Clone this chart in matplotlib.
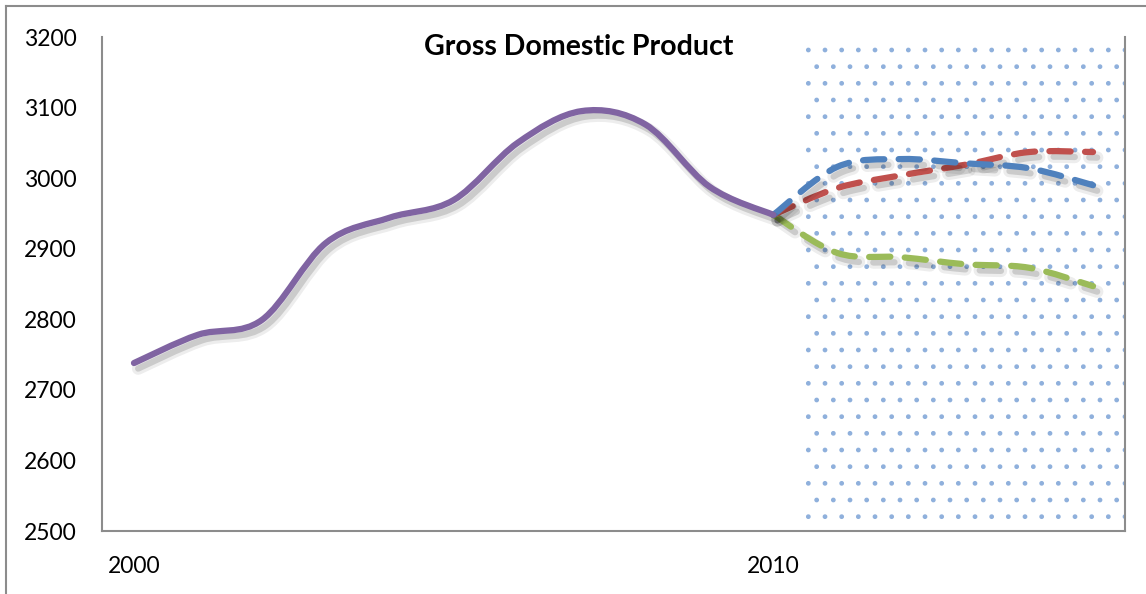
import numpy as np
import matplotlib
matplotlib.use('Agg')
import matplotlib.pyplot as plt
from matplotlib.path import Path
from matplotlib.patches import PathPatch
from matplotlib.lines import Line2D
import matplotlib.patheffects as pe

plt.rcParams['font.family'] = ['Lato', 'DejaVu Sans']

# data
years = list(range(2000, 2016))
gdp = [2738, 2778, 2799, 2908, 2944, 2969, 3050, 3095, 3076, 2988, 2948]
years_fc = [2010, 2011, 2012, 2013, 2014, 2015]
fc_high = [2948, 3016, 3027, 3021, 3014, 2990]
fc_mid = [2948, 2986, 3004, 3019, 3037, 3037]
fc_low = [2948, 2894, 2888, 2878, 2873, 2847]
forecast_span = [2011, 2012, 2013, 2014, 2015]
yticks = [2500, 2600, 2700, 2800, 2900, 3000, 3100, 3200]
xlabels = {2000: '2000', 2010: '2010'}


def smooth_path(xs, ys):
    # excel-like smoothed line as bezier segments
    pts = np.column_stack([xs, ys]).astype(float)
    n = len(pts)
    verts = [pts[0]]
    codes = [Path.MOVETO]
    for i in range(n - 1):
        p0 = pts[i - 1] if i > 0 else pts[i]
        p1 = pts[i]
        p2 = pts[i + 1]
        p3 = pts[i + 2] if i + 2 < n else pts[i + 1]
        c1 = p1 + (p2 - p0) / 6.0
        c2 = p2 - (p3 - p1) / 6.0
        verts += [c1, c2, p2]
        codes += [Path.CURVE4] * 3
    return Path(verts, codes)


fig = plt.figure(figsize=(11.46, 5.94), dpi=100)
ax = fig.add_axes([102 / 1146, 1 - 531 / 594, (1125 - 102) / 1146, (531 - 37) / 594])

# dotted forecast area
ax.bar(forecast_span, [yticks[-1] - yticks[0]] * len(forecast_span), width=1.0,
       bottom=yticks[0], color='none', edgecolor='#8fb0dc', linewidth=0,
       hatch='.', zorder=1)

shadow = [pe.SimpleLineShadow(offset=(3, -4), shadow_color='black', alpha=0.07, linewidth=9),
          pe.SimpleLineShadow(offset=(3, -4), shadow_color='black', alpha=0.14),
          pe.Normal()]

ax.add_patch(PathPatch(smooth_path(years[:len(gdp)], gdp), fill=False,
                       edgecolor='#8064A2', linewidth=4.5, capstyle='round',
                       joinstyle='round', path_effects=shadow, zorder=5))

for vals, col in [(fc_low, '#9BBB59'), (fc_mid, '#C0504D'), (fc_high, '#4F81BD')]:
    ax.add_patch(PathPatch(smooth_path(years_fc, vals), fill=False,
                           edgecolor=col, linewidth=4.5, capstyle='round',
                           linestyle=(0, (3.4, 2.3)), path_effects=shadow, zorder=4))

ax.set_xlim(years[0] - 0.5, years[-1] + 0.5)
ax.set_ylim(yticks[0], yticks[-1])
ax.set_yticks(yticks)
ax.set_xticks(list(xlabels.keys()))
ax.set_xticklabels(list(xlabels.values()))
ax.tick_params(axis='y', length=0, pad=18, labelsize=16.5)
ax.tick_params(axis='x', length=0, pad=18, labelsize=16.5)

for s in ['left', 'bottom', 'right']:
    ax.spines[s].set_color('#8c8c8c')
    ax.spines[s].set_linewidth(1.5)
ax.spines['top'].set_visible(False)

fig.text(579 / 1146, 1 - 47 / 594, 'Gross Domestic Product', ha='center', va='center',
         fontsize=20.5, fontweight='bold')

# outer chart frame (left and top edges are visible)
fig.add_artist(Line2D([6 / 1146, 6 / 1146], [0, 1 - 6 / 594], color='#8c8c8c', lw=1.5))
fig.add_artist(Line2D([6 / 1146, 1], [1 - 6 / 594, 1 - 6 / 594], color='#8c8c8c', lw=1.5))

fig.savefig('out.png', dpi=100)
